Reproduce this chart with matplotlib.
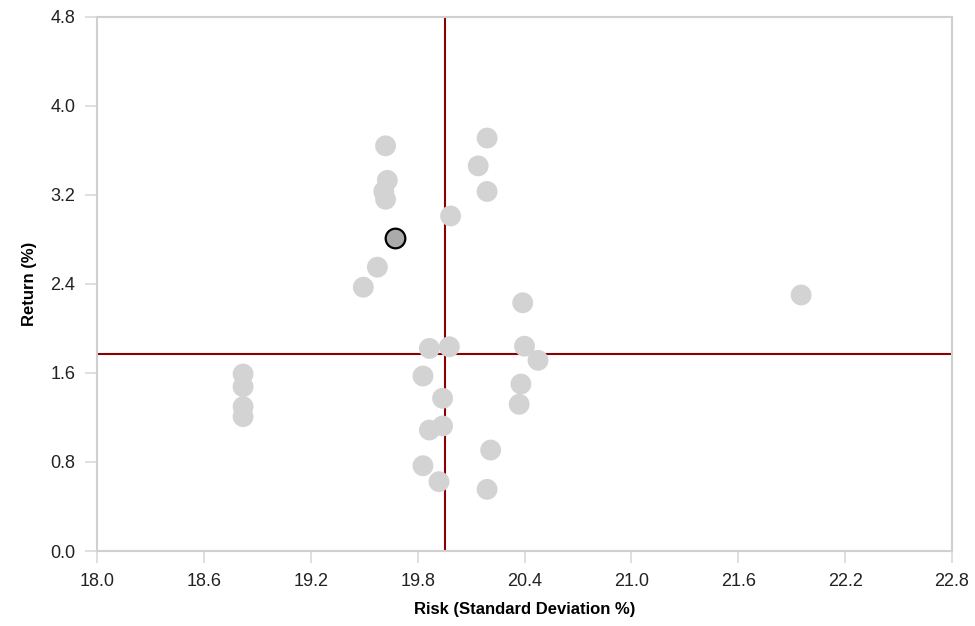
import matplotlib
matplotlib.use("Agg")
import matplotlib.pyplot as plt

plt.rcParams['font.family'] = ['Liberation Sans', 'DejaVu Sans']

risk = [19.62, 19.63, 19.61, 19.62, 19.574, 19.495,
        20.19, 20.14, 20.19, 19.985,
        20.39, 21.953,
        19.866, 19.978, 20.40, 20.476, 19.83, 20.38, 20.37, 19.94,
        19.94, 19.866, 20.21, 19.83, 19.92, 20.19,
        18.82, 18.82, 18.82, 18.82]
ret = [3.64, 3.33, 3.23, 3.16, 2.55, 2.37,
       3.71, 3.46, 3.23, 3.01,
       2.23, 2.30,
       1.82, 1.835, 1.84, 1.713, 1.572, 1.50, 1.318, 1.372,
       1.123, 1.087, 0.907, 0.766, 0.623, 0.554,
       1.59, 1.476, 1.297, 1.207]

highlight_risk = [19.675]
highlight_ret = [2.815]

avg_risk = 19.954
avg_ret = 1.767

xticks = [18.0, 18.6, 19.2, 19.8, 20.4, 21.0, 21.6, 22.2, 22.8]
yticks = [0.0, 0.8, 1.6, 2.4, 3.2, 4.0, 4.8]

fig = plt.figure(figsize=(9.75, 6.26), dpi=100)
ax = fig.add_axes([0.0995, 0.1198, 0.8769, 0.8535])

ax.scatter(risk, ret, s=225, color='#d3d3d3', edgecolors='none', zorder=3)
ax.axvline(avg_risk, color='#8b0000', lw=1.5, zorder=2)
ax.axhline(avg_ret, color='#8b0000', lw=1.5, zorder=2)
ax.scatter(highlight_risk, highlight_ret, s=200, color='#aaaaaa', edgecolors='black',
           linewidths=1.6, zorder=4)

ax.set_xlim(18.0, 22.8)
ax.set_ylim(0.0, 4.8)
ax.set_xticks(xticks)
ax.set_yticks(yticks)
ax.set_xticklabels([f"{v:.1f}" for v in xticks])
ax.set_yticklabels([f"{v:.1f}" for v in yticks])

for sp in ax.spines.values():
    sp.set_color('#d0d0d0')
    sp.set_linewidth(1.5)
ax.tick_params(axis='both', length=8.5, width=1.2, color='#d9d9d9', labelsize=13,
               labelcolor='#222222', pad=7)

ax.set_xlabel('Risk (Standard Deviation %)', fontsize=12, fontweight='bold', labelpad=9)
ax.set_ylabel('Return (%)', fontsize=12, fontweight='bold', labelpad=9.5)

fig.savefig('out.png', dpi=100)
